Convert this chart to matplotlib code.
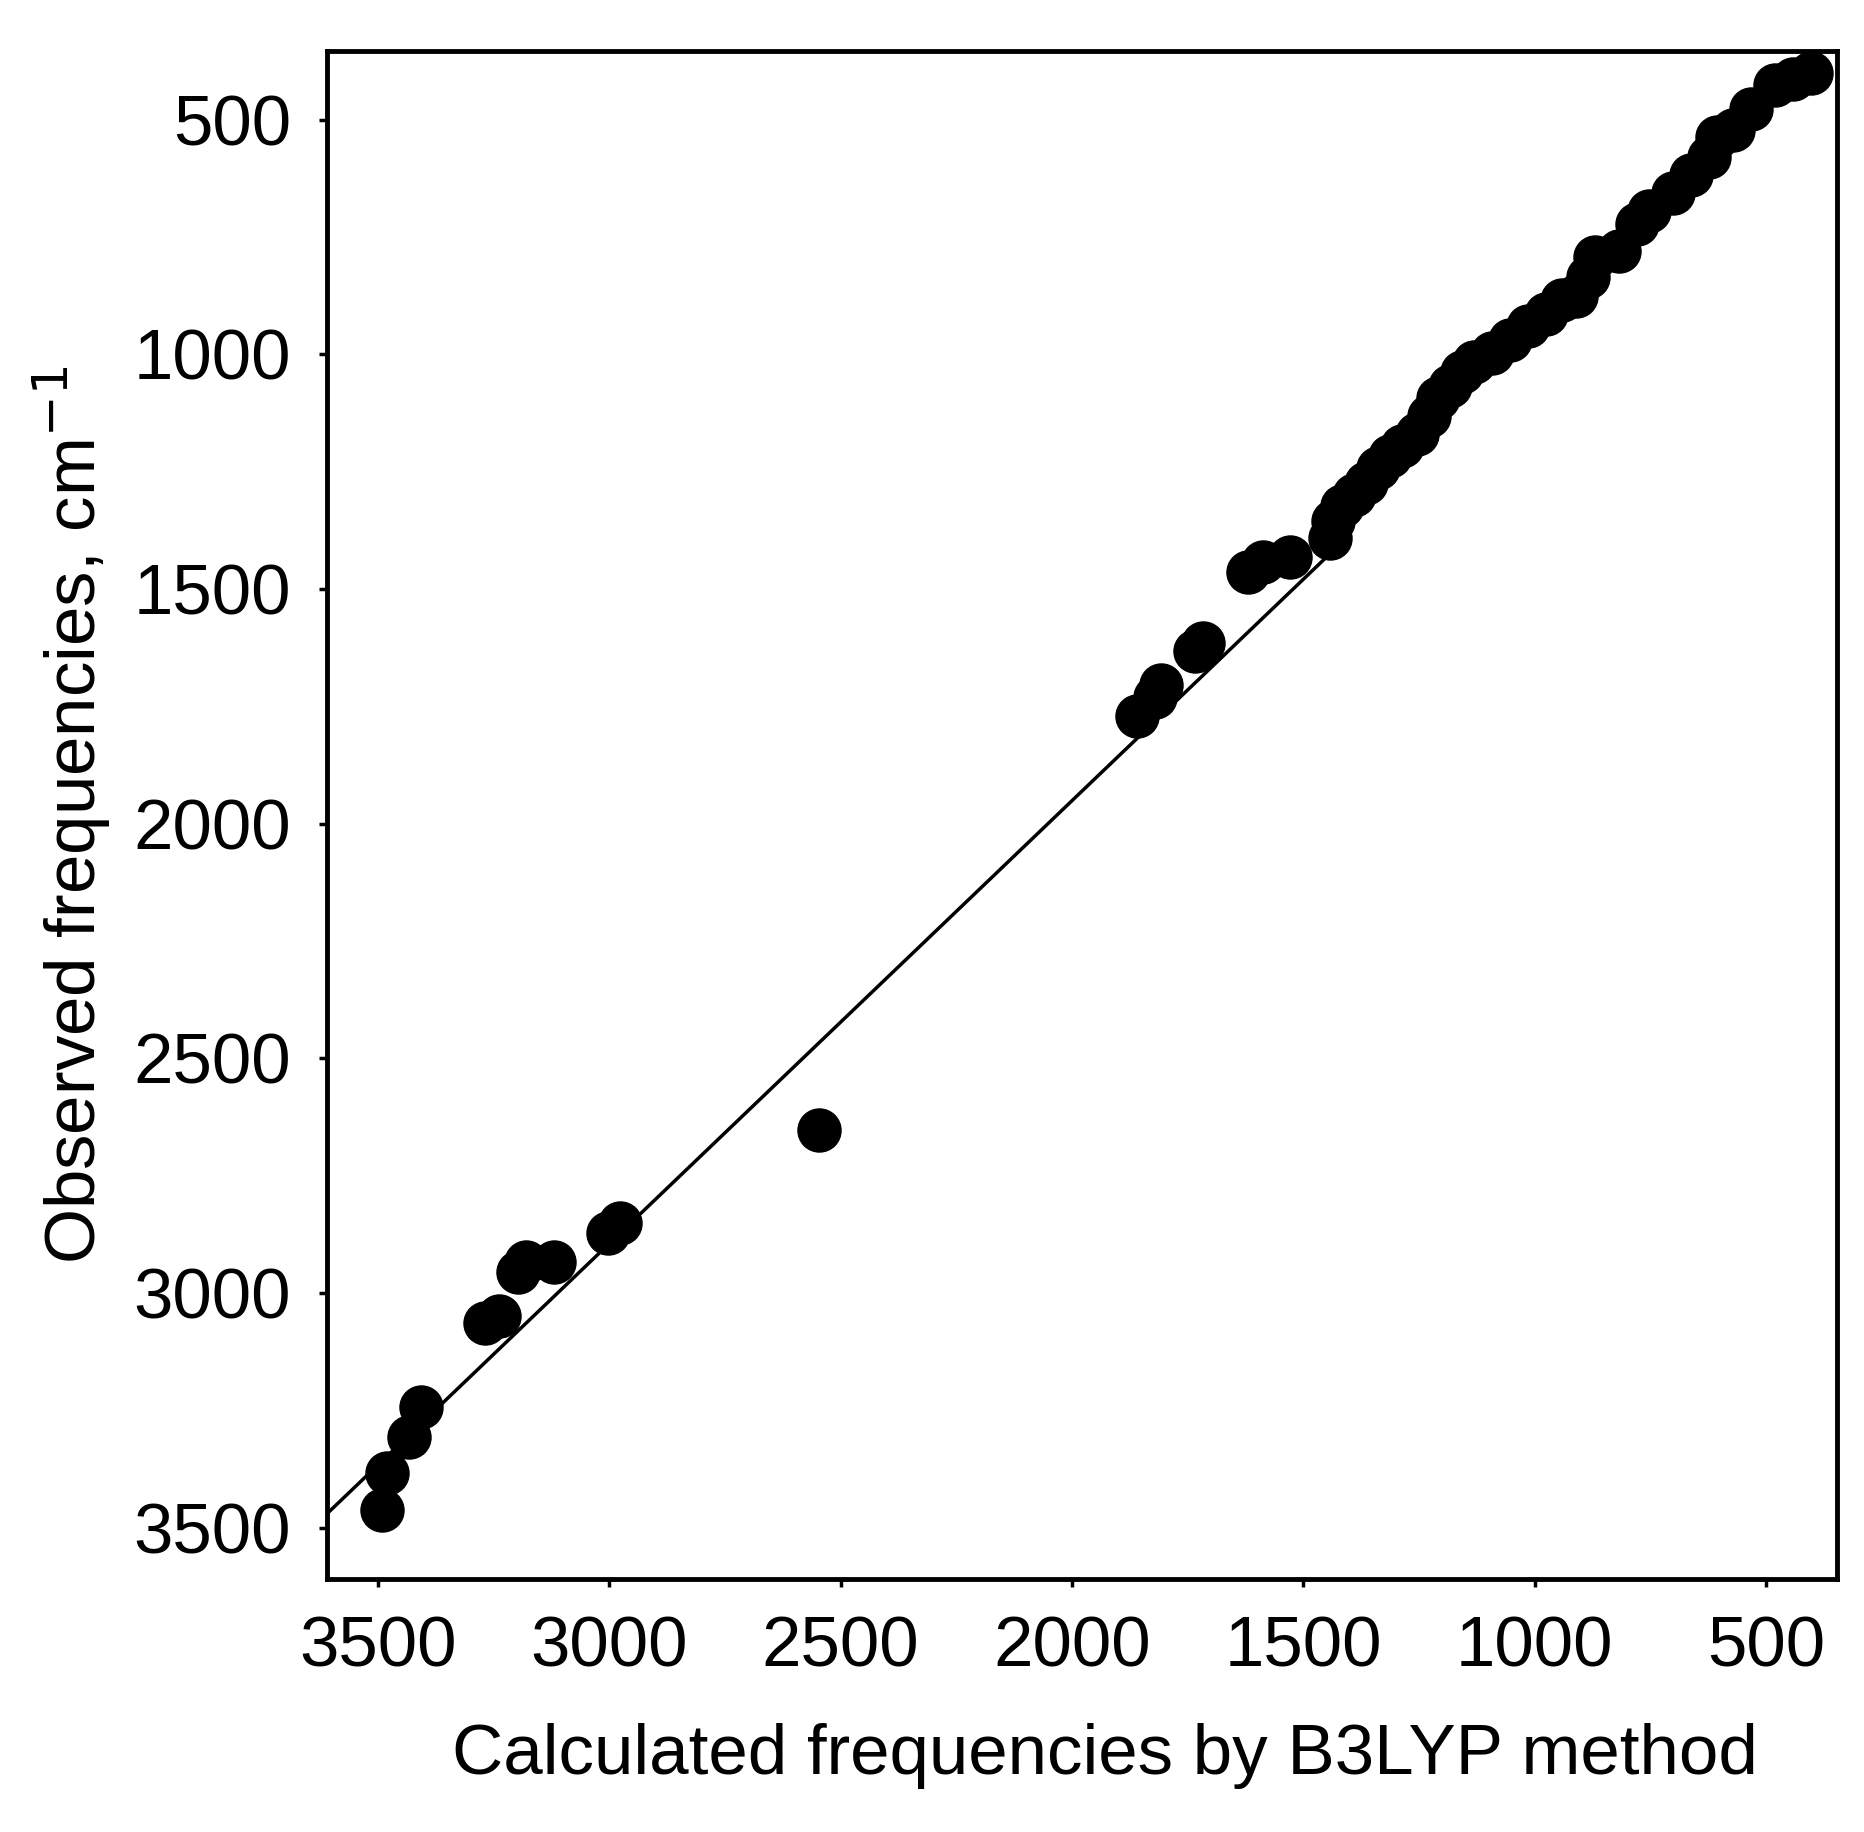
import matplotlib
matplotlib.use("Agg")
import matplotlib.pyplot as plt
import numpy as np

calc = [3490,3479,3432,3406,3269,3237,3198,3180,3120,3003,2977,2546,1859,1820,1807,1735,1716,1620,1587,1529,
        1443,1435,1417,1391,1365,1339,1313,1287,1254,1228,1209,1183,1157,1131,1092,1053,1014,975,942,910,884,871,
        819,780,754,702,663,624,606,572,533,481,442,403]
obs = [3463,3384,3307,3243,3063,3050,2955,2934,2934,2873,2852,2652,1771,1730,1704,1632,1614,1463,1442,1432,
       1391,1355,1324,1299,1273,1242,1216,1196,1170,1132,1093,1067,1037,1016,996,970,939,913,883,875,836,793,
       780,721,695,657,618,580,536,521,477,426,413,400]
line_x = [3609, 1450]
slope, intercept = 0.944, 63

plt.rcParams['font.family'] = ['Liberation Sans', 'DejaVu Sans']
fig = plt.figure(figsize=(18.65, 18.32), dpi=100)
ax = fig.add_axes([0.1755, 0.138, 0.8095, 0.834])
lx = np.array(line_x)
ax.plot(lx, slope*lx+intercept, color='black', lw=2.5)
ax.plot(calc, obs, 'o', color='black', ms=31)
ax.set_xlim(3609, 347)
ax.set_ylim(3610, 354)
ax.set_xticks([3500,3000,2500,2000,1500,1000,500])
ax.set_yticks([500,1000,1500,2000,2500,3000,3500])
ax.tick_params(labelsize=51, length=6, width=2.5, pad=20)
for s in ax.spines.values():
    s.set_linewidth(3.5)
ax.set_xlabel('Calculated frequencies by B3LYP method', fontsize=51, labelpad=30, x=0.515)
ax.set_ylabel('Observed frequencies, cm$^{-1}$', fontsize=51, labelpad=15)
fig.savefig('out.png', dpi=100)
